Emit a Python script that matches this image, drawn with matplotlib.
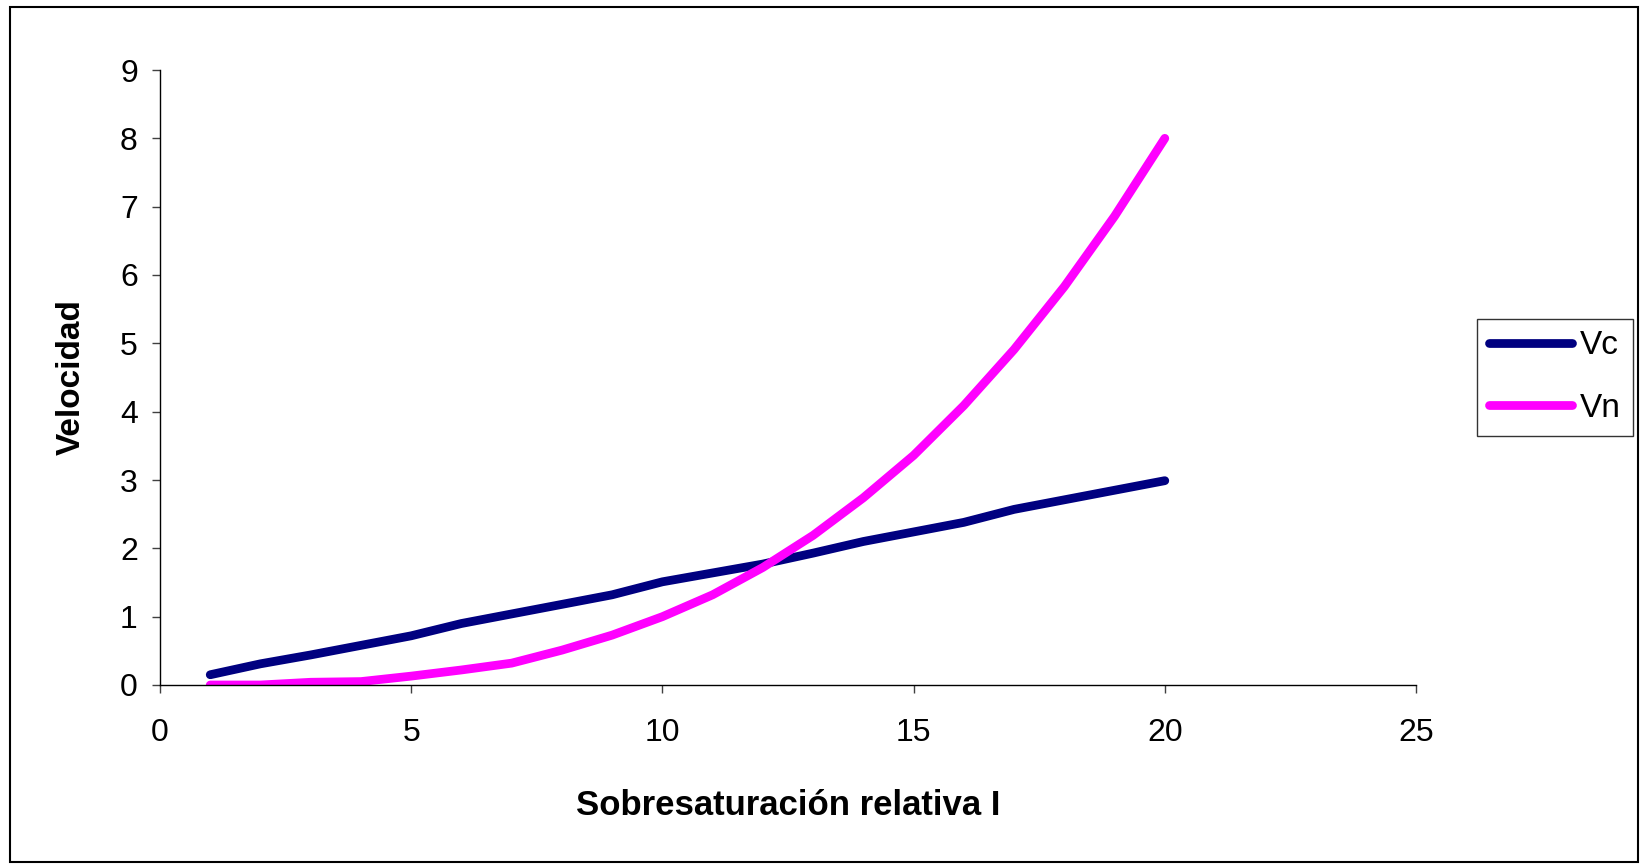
import matplotlib
matplotlib.use("Agg")
import matplotlib.pyplot as plt
from matplotlib.patches import Rectangle

plt.rcParams["font.family"] = ["Liberation Sans", "DejaVu Sans"]

# Data
x = [1, 2, 3, 4, 5, 6, 7, 8, 9, 10, 11, 12, 13, 14, 15, 16, 17, 18, 19, 20]
vc = [0.15, 0.31, 0.44, 0.58, 0.72, 0.9, 1.04, 1.18, 1.32, 1.51, 1.64, 1.77, 1.93, 2.1, 2.24, 2.38, 2.57, 2.71, 2.85, 2.99]
vn = [0.0, 0.0, 0.04, 0.05, 0.13, 0.22, 0.32, 0.51, 0.73, 1.0, 1.32, 1.72, 2.19, 2.74, 3.36, 4.09, 4.91, 5.83, 6.86, 8.0]

xticks = [0, 5, 10, 15, 20, 25]
yticks = [0, 1, 2, 3, 4, 5, 6, 7, 8, 9]

fig = plt.figure(figsize=(16.41, 8.66), dpi=100)
ax = fig.add_axes([160 / 1641, 1 - 685 / 866, (1416 - 160) / 1641, (685 - 70) / 866])

ax.plot(x, vc, color="#000080", lw=6.3, solid_capstyle="round", solid_joinstyle="round", label="Vc")
ax.plot(x, vn, color="#FF00FF", lw=6.3, solid_capstyle="round", solid_joinstyle="round", label="Vn")

ax.set_xlim(0, 25)
ax.set_ylim(0, 9)
ax.set_xticks(xticks)
ax.set_yticks(yticks)
ax.tick_params(direction="out", length=6, width=1, colors="#404040", labelsize=23, labelcolor="black")
ax.tick_params(axis="y", pad=10)
ax.tick_params(axis="x", pad=18)
for side in ["top", "right"]:
    ax.spines[side].set_visible(False)
for side in ["left", "bottom"]:
    ax.spines[side].set_color("black")
    ax.spines[side].set_linewidth(1)

ax.set_xlabel("Sobresaturación relativa I", fontsize=25, fontweight="bold", labelpad=29)
ax.set_ylabel("Velocidad", fontsize=24, fontweight="bold", labelpad=24)

leg = ax.legend(loc="center left", bbox_to_anchor=(1477 / 1641, 1 - 377 / 866),
                bbox_transform=fig.transFigure, fontsize=24, frameon=True, fancybox=False,
                edgecolor="black", handlelength=2.5, handletextpad=0.25, borderpad=0.35,
                labelspacing=0.95, borderaxespad=0)
leg.get_frame().set_linewidth(1)

# chart area border
fig.patches.append(Rectangle((10 / 1641, 1 - 862 / 866), 1628 / 1641, 855 / 866,
                             transform=fig.transFigure, fill=False, edgecolor="black", lw=1.5))

fig.savefig("out.png", dpi=100)
